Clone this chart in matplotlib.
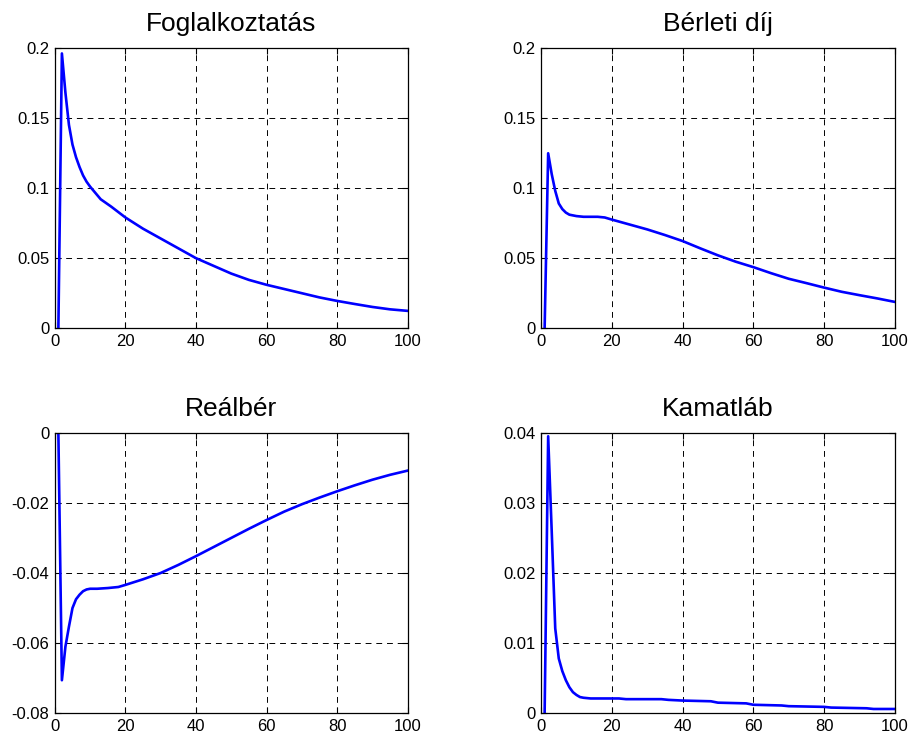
import numpy as np
import matplotlib
matplotlib.use('Agg')
import matplotlib.pyplot as plt
from matplotlib.ticker import FuncFormatter

plt.rcParams['font.family'] = ['Liberation Sans', 'DejaVu Sans']
plt.rcParams['axes.unicode_minus'] = False

# impulse responses (period, value)
x_empl = [1, 2, 3, 4, 5, 6, 7, 8, 9, 10, 11, 13, 16, 20, 25, 30, 35, 40, 45, 50,
          55, 60, 65, 70, 75, 80, 85, 90, 95, 100]
y_empl = [0, 0.196, 0.168, 0.145, 0.131, 0.122, 0.115, 0.109, 0.1045, 0.101, 0.098,
          0.092, 0.0867, 0.079, 0.071, 0.064, 0.057, 0.050, 0.0445, 0.039,
          0.0345, 0.031, 0.028, 0.025, 0.022, 0.0195, 0.0173, 0.0152, 0.0135, 0.0124]

x_rent = [1, 2, 3, 4, 5, 6, 7, 8, 9, 10, 12, 16, 18, 20, 25, 30, 35, 40, 45, 50,
          55, 60, 65, 70, 75, 80, 85, 90, 95, 100]
y_rent = [0, 0.1248, 0.110, 0.098, 0.089, 0.085, 0.0825, 0.081, 0.0805, 0.080,
          0.0795, 0.0795, 0.079, 0.0775, 0.074, 0.0705, 0.0665, 0.0622, 0.057, 0.052,
          0.0475, 0.0436, 0.0393, 0.0353, 0.0322, 0.029, 0.026, 0.0236, 0.0213, 0.0188]

x_wage = [1, 2, 3, 4, 5, 6, 7, 8, 9, 10, 12, 15, 18, 20, 25, 30, 35, 40, 45, 50,
          55, 60, 65, 70, 75, 80, 85, 90, 95, 100]
y_wage = [0, -0.0706, -0.061, -0.0553, -0.050, -0.0475, -0.0462, -0.0452, -0.0447,
          -0.0445, -0.0445, -0.0443, -0.0440, -0.0434, -0.0418, -0.0400, -0.0377,
          -0.0352, -0.0326, -0.0300, -0.0274, -0.0249, -0.0225, -0.0204, -0.0185,
          -0.0167, -0.0150, -0.0134, -0.0120, -0.0108]

x_rate = [1, 2, 3, 4, 5, 6, 7, 8, 9, 10, 11, 12, 14, 22, 24, 34, 36, 40, 48, 50,
          58, 60, 68, 70, 80, 82, 92, 94, 100]
y_rate = [0, 0.0395, 0.026, 0.0121, 0.0078, 0.0060, 0.0047, 0.0037, 0.0030, 0.0026,
          0.0023, 0.0022, 0.0021, 0.0021, 0.0020, 0.0020, 0.0019, 0.0018, 0.0017,
          0.0015, 0.0014, 0.0012, 0.0011, 0.0010, 0.0009, 0.0008, 0.0007, 0.0006,
          0.0006]

titles = ['Foglalkoztatás', 'Bérleti díj', 'Reálbér', 'Kamatláb']
series = [(x_empl, y_empl), (x_rent, y_rent), (x_wage, y_wage), (x_rate, y_rate)]
ylims = [(0, 0.2), (0, 0.2), (-0.08, 0), (0, 0.04)]
ysteps = [0.05, 0.05, 0.02, 0.01]

fig = plt.figure(figsize=(9.14, 7.36), dpi=100)
pos = [
    [0.060, 0.554, 0.386, 0.381],
    [0.592, 0.554, 0.387, 0.381],
    [0.060, 0.031, 0.386, 0.381],
    [0.592, 0.031, 0.387, 0.381],
]

fmt = FuncFormatter(lambda v, p: '%g' % round(v, 6))

for i in range(4):
    ax = fig.add_axes(pos[i])
    xs, ys = series[i]
    ax.plot(xs, ys, color='#0000ff', lw=1.9)
    ax.set_xlim(0, 100)
    ax.set_ylim(*ylims[i])
    ax.set_xticks(np.arange(0, 101, 20))
    lo, hi = ylims[i]
    ax.set_yticks(np.arange(lo, hi + ysteps[i] / 2, ysteps[i]))
    ax.yaxis.set_major_formatter(fmt)
    ax.grid(True, color='black', linestyle=(0, (6, 5)), lw=0.7)
    ax.tick_params(direction='in', length=4, width=0.8, labelsize=12,
                   top=True, right=True, pad=4)
    for s in ax.spines.values():
        s.set_linewidth(0.9)
    ax.set_title(titles[i], fontsize=19, pad=12)

plt.savefig('out.png', dpi=100)
